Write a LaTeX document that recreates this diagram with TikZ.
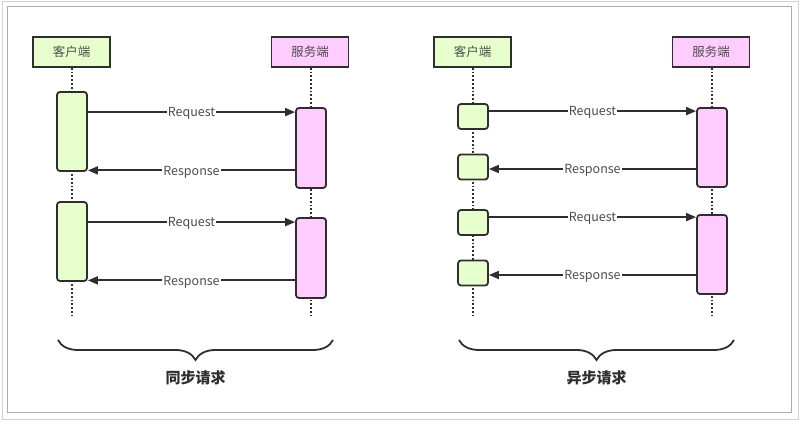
\documentclass[tikz,border=0pt]{standalone}
\usepackage{fontspec}
\setmainfont{Noto Sans CJK SC}
\usetikzlibrary{arrows.meta,decorations.pathreplacing}
\definecolor{cligreen}{HTML}{E6FFCC}
\definecolor{srvpink}{HTML}{FFCCFF}
\definecolor{ink}{HTML}{2E2E2E}
\tikzset{
  head/.style={draw=ink, line width=1.8pt, minimum width=77pt, minimum height=30pt, inner sep=0pt,
    font=\fontsize{12.5}{14}\selectfont, text=ink!85},
  bar/.style={draw=ink, line width=1.8pt, rounded corners=3pt, minimum width=30pt, inner sep=0pt},
  life/.style={draw=ink, line width=1.8pt, dotted},
  msg/.style={draw=ink, line width=1.8pt, -{Triangle[length=10pt,width=8pt]}},
  lbl/.style={fill=white, inner sep=1pt, yshift=-1.5pt, text=ink!85, font=\fontsize{12.5}{14}\selectfont},
  brace/.style={draw=ink, line width=1.8pt, decorate, decoration={brace, mirror, amplitude=20pt}},
  title/.style={text=ink, font=\fontsize{15}{18}\selectfont\bfseries}
}
\begin{document}
\begin{tikzpicture}[x=1pt, y=-1pt]
    \useasboundingbox (0,0) rectangle (804,427);
    % frame
    \draw[gray!35, line width=1pt] (2,2) rectangle (798,420);
    \draw[gray!65, line width=1pt, fill=white] (7,7) rectangle (791,413);

    % synchronous
    \node[head, fill=cligreen] (cli) at (71.5,52) {客户端};
    \node[head, fill=srvpink] (srv) at (310,52) {服务端};
    \coordinate (cliend) at (72,315);
    \coordinate (srvend) at (311,315);
    \draw[life] (cli.south -| cliend) -- (cliend);
    \draw[life] (srv.south -| srvend) -- (srvend);
    \node[bar, fill=cligreen, minimum height=79pt] (c1) at (72,131.5) {};
    \node[bar, fill=srvpink, minimum height=80pt] (s1) at (311,148) {};
    \node[bar, fill=cligreen, minimum height=79pt] (c2) at (72,241.5) {};
    \node[bar, fill=srvpink, minimum height=80pt] (s2) at (311,258) {};
    \draw[msg] ([yshift=-5pt]c1.east |- s1.north) -- ([yshift=-5pt]s1.north west) node[lbl, midway] {Request};
    \draw[msg] ([yshift=1.5pt]s1.west |- c1.south) -- ([yshift=1.5pt]c1.south east) node[lbl, midway] {Response};
    \draw[msg] ([yshift=-5pt]c2.east |- s2.north) -- ([yshift=-5pt]s2.north west) node[lbl, midway] {Request};
    \draw[msg] ([yshift=1.5pt]s2.west |- c2.south) -- ([yshift=1.5pt]c2.south east) node[lbl, midway] {Response};
    \coordinate (syncl) at (58,340);
    \coordinate (syncr) at (333,340);
    \draw[brace] (syncl) -- (syncr);
    \node[title] (sync) at (195.5,378) {同步请求};

    % asynchronous
    \node[head, fill=cligreen] (acli) at (472.5,52) {客户端};
    \node[head, fill=srvpink] (asrv) at (711,52) {服务端};
    \coordinate (acliend) at (473,315);
    \coordinate (asrvend) at (712,315);
    \draw[life] (acli.south -| acliend) -- (acliend);
    \draw[life] (asrv.south -| asrvend) -- (asrvend);
    \node[bar, fill=cligreen, minimum height=25pt] (a1) at (473,116.5) {};
    \node[bar, fill=cligreen, minimum height=25pt] (a2) at (473,167) {};
    \node[bar, fill=cligreen, minimum height=25pt] (a3) at (473,222.5) {};
    \node[bar, fill=cligreen, minimum height=25pt] (a4) at (473,273) {};
    \node[bar, fill=srvpink, minimum height=79pt] (s3) at (712,147.5) {};
    \node[bar, fill=srvpink, minimum height=79pt] (s4) at (712,254.5) {};
    \draw[msg] ([yshift=-4pt]a1.east |- s3.north) -- ([yshift=-4pt]s3.north west) node[lbl, midway] {Request};
    \draw[msg] ([yshift=-2pt]s3.west |- a2.east) -- ([yshift=-2pt]a2.east) node[lbl, midway] {Response};
    \draw[msg] ([yshift=-3pt]a3.east |- s4.north) -- ([yshift=-3pt]s4.north west) node[lbl, midway] {Request};
    \draw[msg] ([yshift=-2pt]s4.west |- a4.east) -- ([yshift=-2pt]a4.east) node[lbl, midway] {Response};
    \coordinate (asyncl) at (459,340);
    \coordinate (asyncr) at (734,340);
    \draw[brace] (asyncl) -- (asyncr);
    \node[title] (async) at (596.5,378) {异步请求};
\end{tikzpicture}
\end{document}
